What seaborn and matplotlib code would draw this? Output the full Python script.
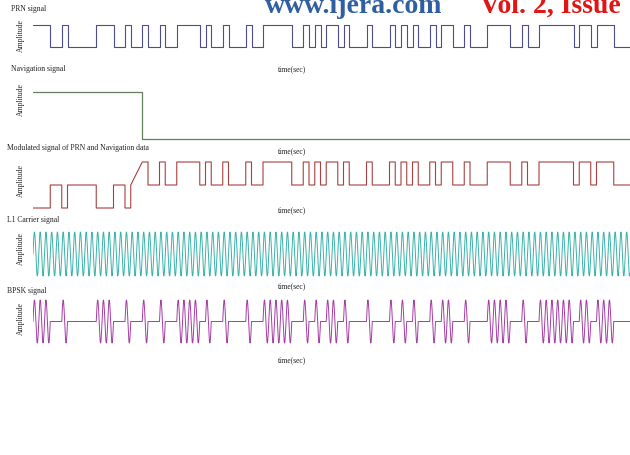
import numpy as np
import pandas as pd
import matplotlib
matplotlib.use("Agg")
import matplotlib.pyplot as plt
import seaborn as sns

# chips where the PRN code is high (read from the BPSK / PRN traces)
prn_high_chips = [0, 1, 2, 5, 11, 12, 13, 16, 19, 22, 25, 26, 27, 28, 30, 33, 37,
                  40, 41, 42, 43, 44, 47, 49, 51, 52, 54, 58, 62, 64, 66, 69, 71, 72,
                  75, 79, 80, 81, 82, 85, 88, 89, 90, 91, 92, 93, 95, 96, 98, 99, 100]
n_chips = 106
nav_bits = [1, 0]          # navigation data bits
nav_switch_chip = 19       # chip where the navigation bit changes
mod_ramp = (17, 19)        # sloped edge in the modulated trace
carrier_cycles_per_chip = 1
samples_per_cycle = 24

titles = ["PRN signal", "Navigation signal", "Modulated signal of PRN and Navigation data",
          "L1 Carrier signal", "BPSK signal"]
colors = ["#4c4c8e", "#62805a", "#a8403f", "#38b2aa", "#a43ca4"]

W, H = 630, 455
sns.set_theme(style="white")
plt.rcParams["font.family"] = ["Liberation Serif", "DejaVu Serif"]
fig = plt.figure(figsize=(W / 100, H / 100), dpi=100)

prn = np.zeros(n_chips)
prn[prn_high_chips] = 1
nav = np.where(np.arange(n_chips) < nav_switch_chip, nav_bits[0], nav_bits[1])
mod = np.where(nav == 1, 1 - prn, prn + 1)


def steps(vals, skip=None):
    xs, ys = [], []
    for k, v in enumerate(vals):
        xs += [k, k + 1]
        ys += [v, v]
    df = pd.DataFrame({"t": xs, "v": ys})
    if skip is not None:
        a, b = skip
        drop = ((df.t > a) & (df.t < b)) | ((df.t == b) & (df.index % 2 == 1))
        df = df[~drop]
    return df


def panel(v_hi, px_hi, v_lo, px_lo, pad=0.25):
    ppu = (px_lo - px_hi) / (v_hi - v_lo)
    top = px_hi - pad * (v_hi - v_lo) * ppu
    bot = px_lo + pad * (v_hi - v_lo) * ppu
    x0 = 33 / W
    ax = fig.add_axes([x0, 1 - bot / H, 1 - x0, (bot - top) / H])
    ax.set_xlim(0, 597 / 5.75)
    ax.set_ylim(v_lo - pad * (v_hi - v_lo), v_hi + pad * (v_hi - v_lo))
    ax.axis("off")
    return ax


def label(x, y, s, **kw):
    fig.text(x / W, 1 - y / H, s, fontsize=5.5, color="#222222", va="center", **kw)


# PRN
ax = panel(1, 25, 0, 47)
sns.lineplot(data=steps(prn), x="t", y="v", sort=False, estimator=None, ax=ax,
             color=colors[0], lw=0.8)

# navigation
nav_df = pd.DataFrame({"t": [0, nav_switch_chip, nav_switch_chip, n_chips],
                       "v": [nav_bits[0], nav_bits[0], nav_bits[1], nav_bits[1]]})
ax = panel(1, 92, 0, 139)
sns.lineplot(data=nav_df, x="t", y="v", sort=False, estimator=None, ax=ax,
             color=colors[1], lw=0.9)

# modulated
ax = panel(2, 162, 0, 208)
sns.lineplot(data=steps(mod, mod_ramp), x="t", y="v", sort=False, estimator=None, ax=ax,
             color=colors[2], lw=0.8)

# carrier and BPSK
t = np.linspace(0, n_chips, n_chips * samples_per_cycle + 1)
carrier = np.sin(2 * np.pi * carrier_cycles_per_chip * t)
chip_idx = np.minimum(t.astype(int), n_chips - 1)
bpsk = carrier * prn[chip_idx]

ax = panel(1, 232, -1, 276, pad=0.05)
sns.lineplot(x=t, y=carrier, sort=False, estimator=None, ax=ax, color=colors[3], lw=0.7)

ax = panel(1, 300, -1, 343, pad=0.05)
sns.lineplot(x=t, y=bpsk, sort=False, estimator=None, ax=ax, color=colors[4], lw=0.7)

# titles and axis labels
title_pos = [(11, 9), (11, 69), (7, 148), (7, 220), (7, 291)]
for (x, y), s in zip(title_pos, titles):
    label(x, y, s, ha="left")
for y in [69, 151, 210, 286, 360]:
    label(292, y, "time(sec)", ha="center")
for y in [36, 100, 181, 249, 319]:
    label(21, y, "Amplitude", ha="center", rotation=90)

# page header cut off at the top
fig.text(265 / W, 1 - 13 / H, "www.ijera.com", fontsize=20, fontweight="bold",
         color="#2f5f9f", va="baseline", ha="left")
fig.text(480 / W, 1 - 13 / H, "Vol. 2, Issue", fontsize=20, fontweight="bold",
         color="#e01515", va="baseline", ha="left")

fig.savefig("out.png", dpi=100)
